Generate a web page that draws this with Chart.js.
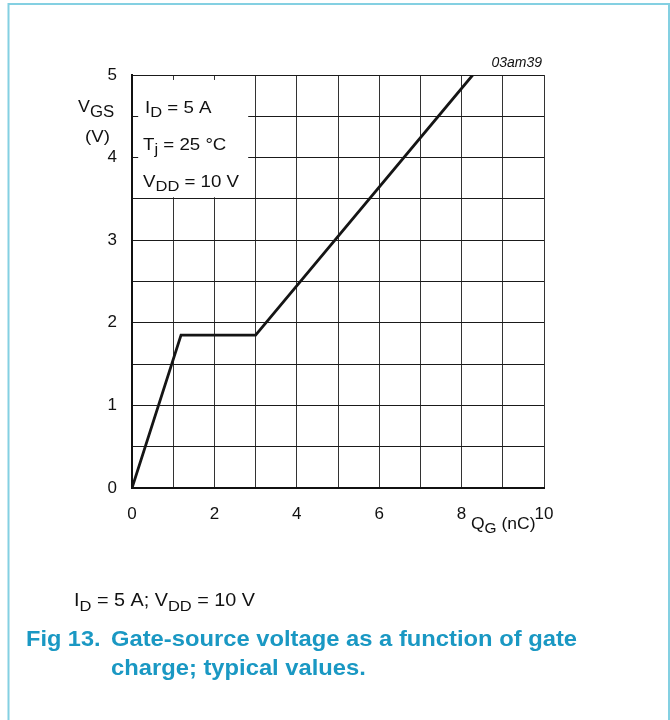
<!DOCTYPE html>
<html>
<head>
<meta charset="utf-8">
<script src="https://cdn.jsdelivr.net/npm/chart.js@4/dist/chart.umd.min.js"></script>
<style>
  html, body { margin: 0; padding: 0; background: #fff; }
  #wrap { position: relative; width: 670px; height: 720px; }
  canvas { display: block; }
</style>
</head>
<body>
<div id="wrap"><canvas id="c" width="670" height="720"></canvas></div>
<script>
// ---- data ----
const gateCharge = [0, 1.19, 3.0, 8.27];     // Q_G (nC)
const gateVoltage = [0, 1.85, 1.85, 5.0];    // V_GS (V)
const xTickLabels = ['0', '2', '4', '6', '8', '10'];
const yTickLabels = ['0', '1', '2', '3', '4', '5'];
const conditionLines = [
  [['I', 'n'], ['D', 's'], [' = 5 A', 'n']],
  [['T', 'n'], ['j', 's'], [' = 25 \u00B0C', 'n']],
  [['V', 'n'], ['DD', 's'], [' = 10 V', 'n']]
];
const captionCond = [['I', 'n'], ['D', 's'], [' = 5 A; V', 'n'], ['DD', 's'], [' = 10 V', 'n']];
const figLabel = 'Fig 13.';
const figTitle1 = 'Gate-source voltage as a function of gate';
const figTitle2 = 'charge; typical values.';
const figCode = '03am39';

const FONT = "'Liberation Sans', Arial, Helvetica, sans-serif";
const TEAL = '#1a98c3';

function drawRich(ctx, parts, x, y, size, subSize, subDrop, sx) {
  sx = sx || 1;
  ctx.save();
  ctx.translate(x, y);
  ctx.scale(sx, 1);
  ctx.textAlign = 'left';
  ctx.textBaseline = 'alphabetic';
  let cx = 0;
  for (const [t, k] of parts) {
    if (k === 's') {
      ctx.font = subSize + 'px ' + FONT;
      ctx.fillText(t, cx, subDrop);
    } else {
      ctx.font = size + 'px ' + FONT;
      ctx.fillText(t, cx, 0);
    }
    cx += ctx.measureText(t).width;
  }
  ctx.restore();
}

function drawStretched(ctx, text, x, y, font, sx) {
  ctx.save();
  ctx.translate(x, y);
  ctx.scale(sx, 1);
  ctx.font = font;
  ctx.textAlign = 'left';
  ctx.textBaseline = 'alphabetic';
  ctx.fillText(text, 0, 0);
  ctx.restore();
}

const annotPlugin = {
  id: 'annot',
  beforeDatasetsDraw(chart) {
    const { ctx, scales } = chart;
    const xs = scales.x, ys = scales.y;
    // white box holding the test conditions
    const l = xs.getPixelForValue(0.15), r = xs.getPixelForValue(2.82);
    const t = ys.getPixelForValue(4.94), b = ys.getPixelForValue(3.52);
    ctx.save();
    ctx.fillStyle = '#fff';
    ctx.fillRect(l, t, r - l, b - t);
    ctx.restore();
  },
  afterDraw(chart) {
    const { ctx, chartArea: ca } = chart;
    ctx.save();
    ctx.fillStyle = '#111';
    // condition text inside box
    const bx = ca.left + 11;
    drawRich(ctx, conditionLines[0], bx + 2, ca.top + 38, 17, 15, 4, 1.1);
    drawRich(ctx, conditionLines[1], bx, ca.top + 75, 17, 15, 4, 1.1);
    drawRich(ctx, conditionLines[2], bx, ca.top + 112, 17, 15, 4, 1.1);
    // y axis title
    drawRich(ctx, [['V', 'n'], ['GS', 's']], 78, 112, 17, 16, 5, 1.05);
    drawStretched(ctx, '(V)', 85, 142, '17px ' + FONT, 1.1);
    // x axis title
    drawRich(ctx, [['Q', 'n'], ['G', 's'], [' (nC)', 'n']], 471, 529, 17, 15, 4, 1.03);
    // figure code
    ctx.font = 'italic 14px ' + FONT;
    ctx.textAlign = 'right';
    ctx.fillText(figCode, ca.right - 2, 67);
    // caption
    drawRich(ctx, captionCond, 74, 606, 18, 15, 5, 1.1);
    ctx.fillStyle = TEAL;
    drawStretched(ctx, figLabel, 26, 646, 'bold 22px ' + FONT, 1.07);
    drawStretched(ctx, figTitle1, 111, 646, 'bold 22px ' + FONT, 1.08);
    drawStretched(ctx, figTitle2, 111, 675, 'bold 22px ' + FONT, 1.08);
    // page frame
    ctx.strokeStyle = '#84d0e2';
    ctx.lineWidth = 2;
    ctx.beginPath();
    ctx.moveTo(8.5, 720);
    ctx.lineTo(8.5, 4);
    ctx.lineTo(669, 4);
    ctx.lineTo(669, 720);
    ctx.stroke();
    ctx.restore();
  }
};

new Chart(document.getElementById('c'), {
  type: 'line',
  data: {
    datasets: [{
      data: gateCharge.map((q, i) => ({ x: q, y: gateVoltage[i] })),
      borderColor: '#151515',
      borderWidth: 2.8,
      pointRadius: 0,
      tension: 0,
      fill: false
    }]
  },
  options: {
    responsive: false,
    animation: false,
    devicePixelRatio: 1,
    layout: { padding: { left: 0, top: 75, right: 126, bottom: 0 } },
    plugins: { legend: { display: false }, tooltip: { enabled: false } },
    scales: {
      x: {
        type: 'linear', min: 0, max: 10,
        afterFit(s) { s.height = 232; },
        grid: { color: '#333', lineWidth: 1, drawTicks: false },
        border: { display: true, color: '#111', width: 2 },
        ticks: {
          stepSize: 1, padding: 16, maxRotation: 0, autoSkip: false,
          color: '#111', font: { family: FONT, size: 17 },
          callback: (v) => (v % 2 === 0 ? xTickLabels[v / 2] : '')
        }
      },
      y: {
        type: 'linear', min: 0, max: 5,
        afterFit(s) { s.width = 132; },
        grid: { color: '#1a1a1a', lineWidth: 1, drawTicks: false },
        border: { display: true, color: '#111', width: 2 },
        ticks: {
          stepSize: 0.5, padding: 15, autoSkip: false,
          color: '#111', font: { family: FONT, size: 17 },
          callback: (v) => (v % 1 === 0 ? yTickLabels[v] : '')
        }
      }
    }
  },
  plugins: [annotPlugin]
});
</script>
</body>
</html>
